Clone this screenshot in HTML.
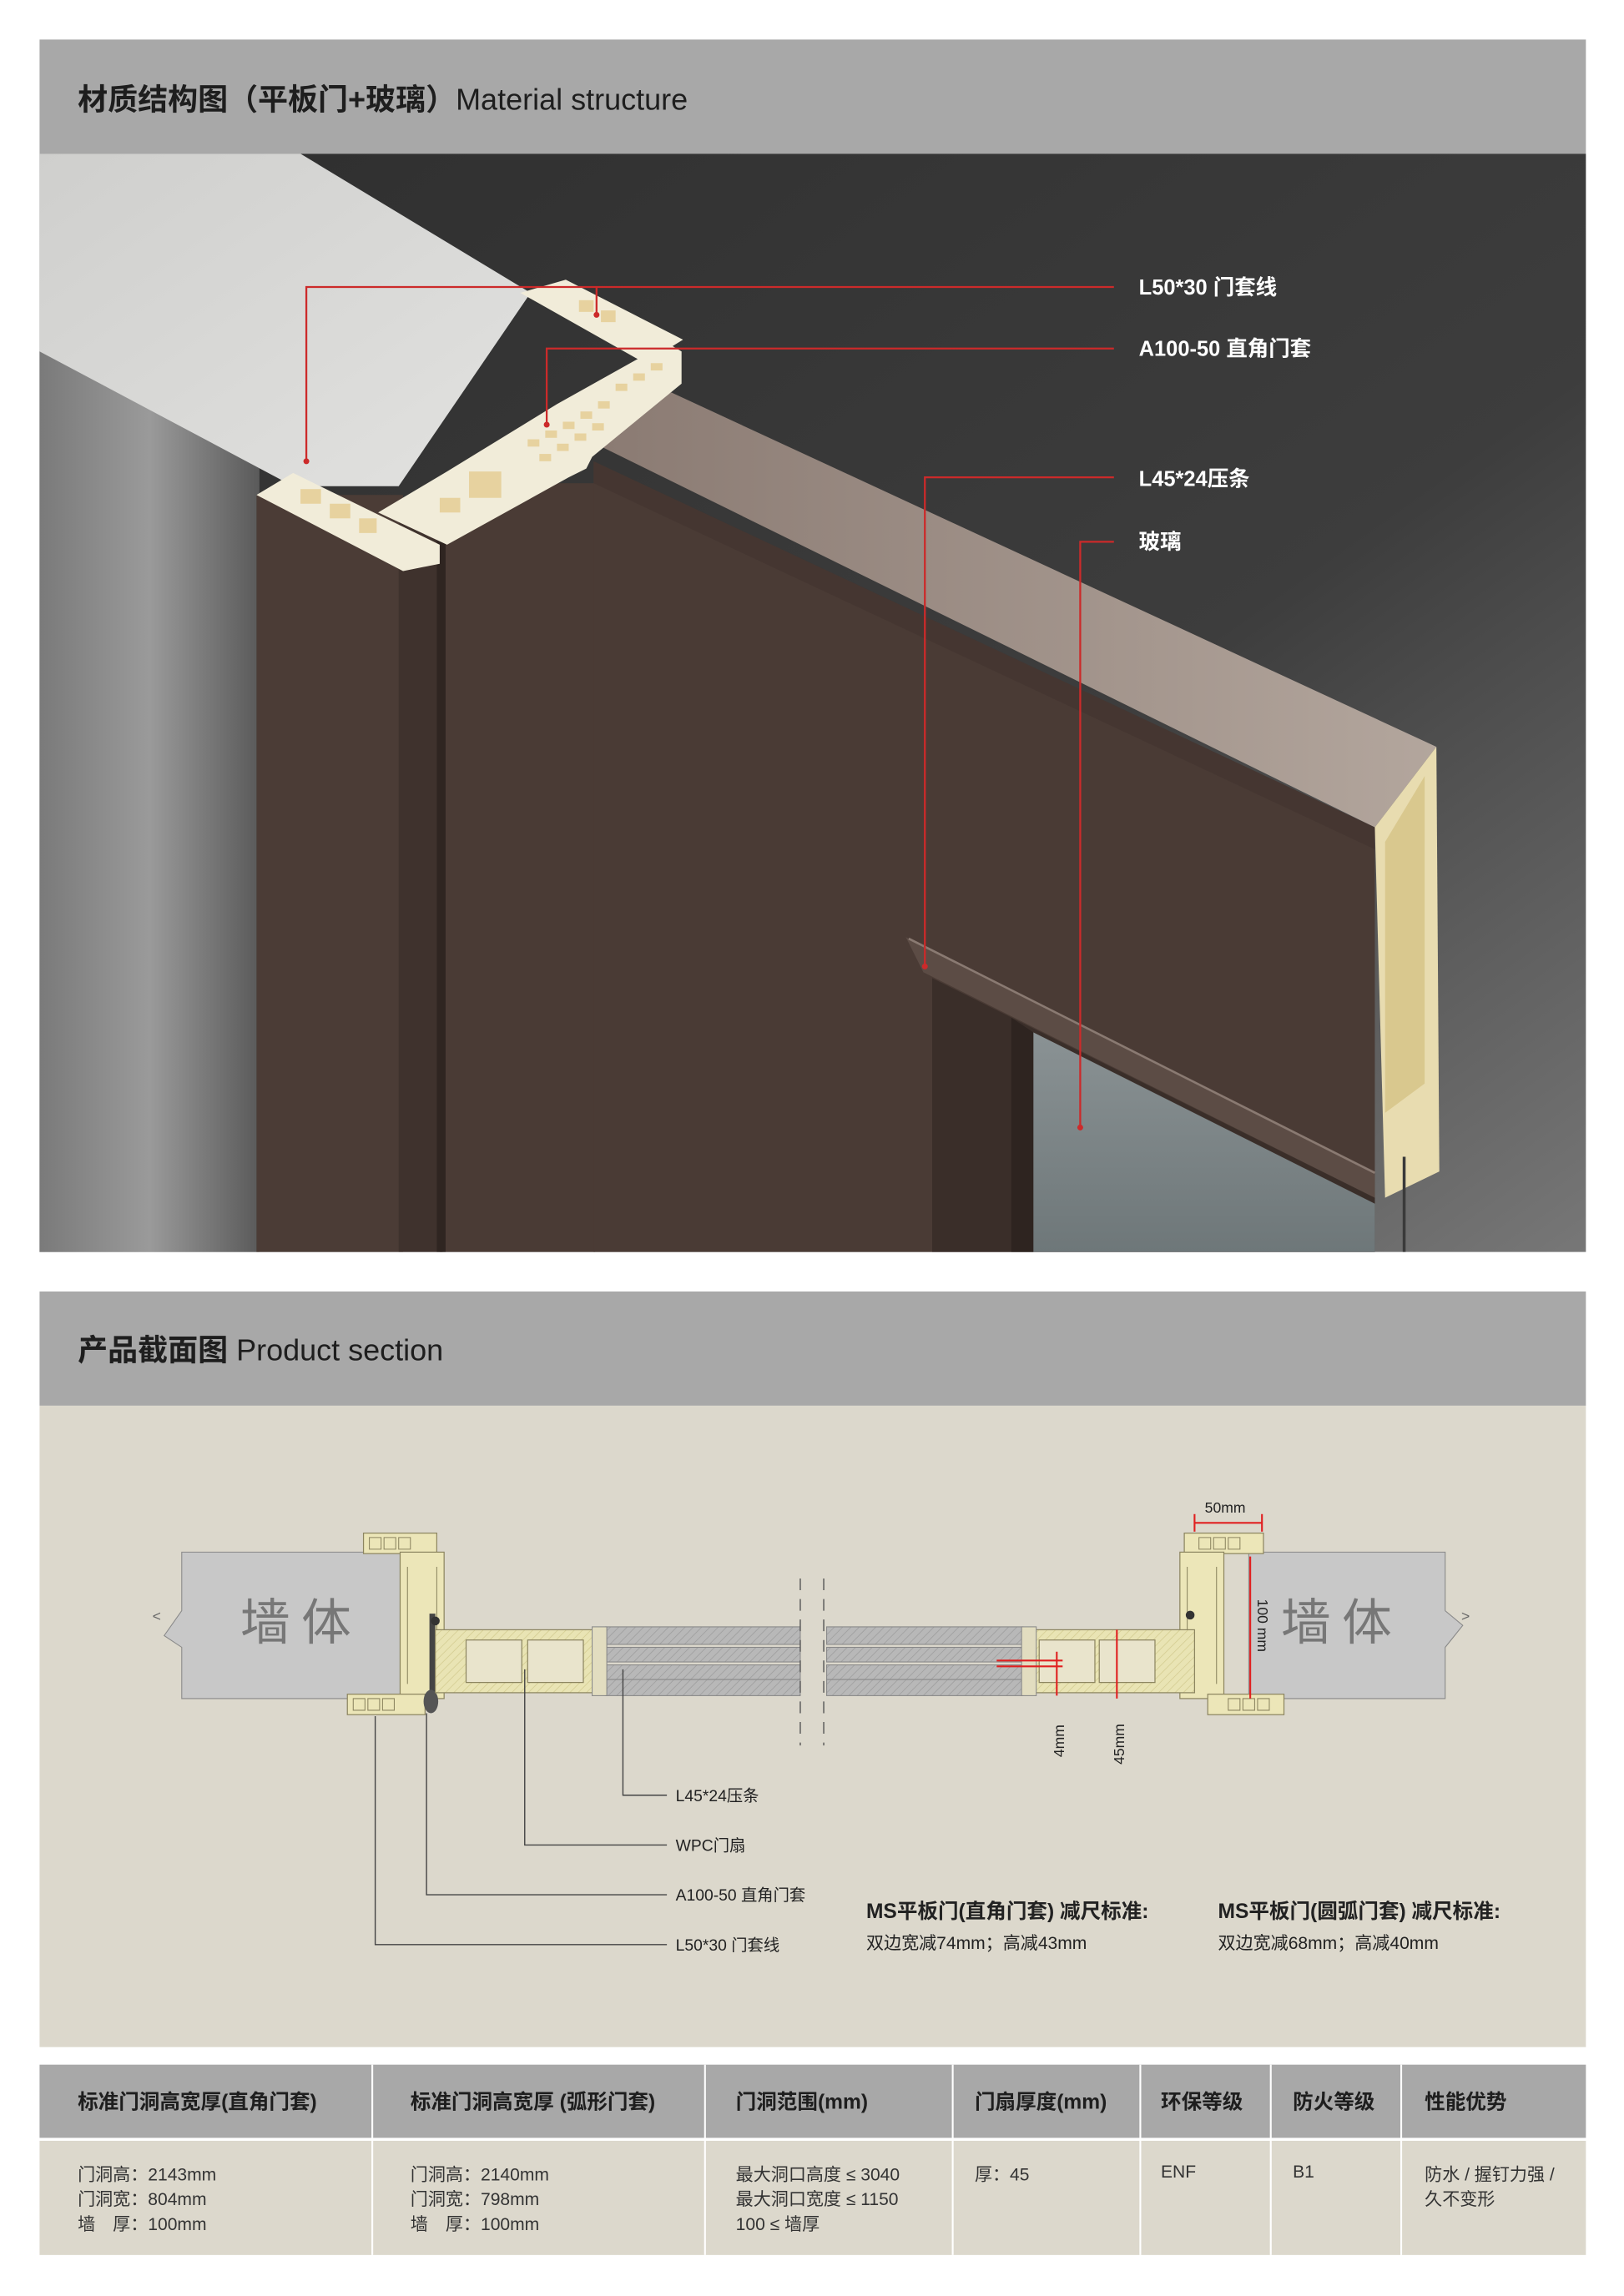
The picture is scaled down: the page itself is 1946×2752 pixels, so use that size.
<!DOCTYPE html>
<html><head><meta charset="utf-8"><style>html,body{margin:0;padding:0;background:#fff}svg{display:block}</style></head>
<body>
<svg width="1946" height="2752" viewBox="0 0 1108 1568" preserveAspectRatio="none" xmlns="http://www.w3.org/2000/svg" font-family="'Liberation Sans','Noto Sans CJK SC',sans-serif">
<defs>
<linearGradient id="bg" x1="0" y1="0" x2="1" y2="1"><stop offset="0" stop-color="#2e2e2e"/><stop offset="0.6" stop-color="#3d3d3d"/><stop offset="1" stop-color="#777"/></linearGradient>
<linearGradient id="wall" x1="0" y1="0" x2="1" y2="0"><stop offset="0" stop-color="#7a7a7a"/><stop offset="0.5" stop-color="#9a9a9a"/><stop offset="1" stop-color="#5a5a5a"/></linearGradient>
<linearGradient id="slab" x1="0" y1="0" x2="1" y2="1"><stop offset="0" stop-color="#cfcfcd"/><stop offset="1" stop-color="#e2e2e0"/></linearGradient>
<linearGradient id="doortop" x1="0" y1="0" x2="1" y2="0"><stop offset="0" stop-color="#8a7a72"/><stop offset="1" stop-color="#b3a69d"/></linearGradient>
<linearGradient id="glass" x1="0" y1="0" x2="0" y2="1"><stop offset="0" stop-color="#8a9294"/><stop offset="1" stop-color="#6e7779"/></linearGradient>
<pattern id="hatch" width="4" height="4" patternUnits="userSpaceOnUse" patternTransform="rotate(45)"><rect width="4" height="4" fill="#e9e4b4"/><line x1="0" y1="0" x2="0" y2="4" stroke="#d6cf95" stroke-width="1"/></pattern>
<pattern id="ghatch" width="4" height="4" patternUnits="userSpaceOnUse" patternTransform="rotate(45)"><rect width="4" height="4" fill="#b8b8b8"/><line x1="0" y1="0" x2="0" y2="4" stroke="#a0a0a0" stroke-width="1"/></pattern>
</defs>

<rect x="27" y="27" width="1055" height="78" fill="#a8a8a8"/>
<text x="53" y="75" font-size="20.5" fill="#1e1e1e"><tspan font-weight="bold">材质结构图（平板门+玻璃）</tspan><tspan>Material structure</tspan></text>

<rect x="27" y="105" width="1055" height="750" fill="url(#bg)"/>
<rect x="27" y="240" width="150" height="615" fill="url(#wall)"/>
<polygon points="27,105 205,105 362,200 272,332 200,332 27,240" fill="url(#slab)"/>
<rect x="175" y="338" width="100" height="517" fill="#4b3c36"/>
<rect x="272" y="345" width="30" height="510" fill="#3f322d"/>
<rect x="300" y="330" width="106" height="525" fill="#4a3b35"/>
<rect x="298" y="350" width="6" height="505" fill="#2f2521"/>
<polygon points="400,300 458,268 980,510 938,565" fill="url(#doortop)"/>
<polygon points="405,315 938,565 938,855 405,855" fill="#4a3b35"/>
<polygon points="405,315 938,565 938,580 405,330" fill="#3f322d" opacity="0.5"/>
<polygon points="636,668 938,818 938,855 636,855" fill="#3a2e29"/>
<polygon points="705,705 938,822 938,855 705,855" fill="url(#glass)"/>
<polygon points="690,695 705,705 705,855 690,855" fill="#2e2420"/>
<polygon points="618,640 938,800 938,818 630,664" fill="#5c4c45"/>
<line x1="620" y1="641" x2="938" y2="801" stroke="#8a7a72" stroke-width="1.5"/>
<polygon points="938,565 980,510 982,800 945,818" fill="#e8dcb0"/>
<polygon points="945,575 972,530 972,740 945,760" fill="#d9c88e"/>
<line x1="958" y1="790" x2="958" y2="855" stroke="#3a3a3a" stroke-width="2"/>
<polygon points="355,200 386,191 466,232 440,248" fill="#f1ecd9"/>
<polygon points="258,350 305,322 380,276 455,234 465,240 465,262 404,312 400,320 388,326 305,372" fill="#f1ecd9"/>
<polygon points="175,338 200,323 300,372 300,385 275,390" fill="#f1ecd9"/>
<g fill="#e7d29f">
<rect x="205" y="334" width="14" height="10"/><rect x="225" y="344" width="14" height="10"/><rect x="245" y="354" width="12" height="10"/>
<rect x="395" y="205" width="10" height="8"/><rect x="410" y="212" width="10" height="8"/>
<rect x="320" y="322" width="22" height="18"/><rect x="300" y="340" width="14" height="10"/>
<rect x="360" y="300" width="8" height="5"/><rect x="372" y="294" width="8" height="5"/><rect x="384" y="288" width="8" height="5"/><rect x="396" y="281" width="8" height="5"/><rect x="408" y="274" width="8" height="5"/>
<rect x="368" y="310" width="8" height="5"/><rect x="380" y="303" width="8" height="5"/><rect x="392" y="296" width="8" height="5"/><rect x="404" y="289" width="8" height="5"/>
<rect x="420" y="262" width="8" height="5"/><rect x="432" y="255" width="8" height="5"/><rect x="444" y="248" width="8" height="5"/>
</g>
<g stroke="#cc2a2a" stroke-width="1.3" fill="none">
<polyline points="209,315 209,196 760,196"/><line x1="407" y1="196" x2="407" y2="215"/>
<polyline points="373,290 373,238 760,238"/>
<polyline points="631,660 631,326 760,326"/>
<polyline points="737,770 737,370 760,370"/>
</g>
<g fill="#cc2a2a"><circle cx="209" cy="315" r="2"/><circle cx="407" cy="215" r="2"/><circle cx="373" cy="290" r="2"/><circle cx="631" cy="660" r="2"/><circle cx="737" cy="770" r="2"/></g>
<g fill="#fff" font-size="14.5" font-weight="bold">
<text x="777" y="201">L50*30 门套线</text>
<text x="777" y="243">A100-50 直角门套</text>
<text x="777" y="332">L45*24压条</text>
<text x="777" y="375">玻璃</text>
</g>

<rect x="27" y="882" width="1055" height="78" fill="#a8a8a8"/>
<text x="53" y="929" font-size="20.5" fill="#1e1e1e"><tspan font-weight="bold">产品截面图 </tspan><tspan>Product section</tspan></text>
<rect x="27" y="960" width="1055" height="438" fill="#dcd8cc"/>

<polygon points="124,1060 273,1060 273,1160 124,1160 124,1125 112,1117 124,1100" fill="#c8c8c8" stroke="#888" stroke-width="0.6"/>
<polygon points="852,1060 986,1060 986,1100 998,1110 986,1125 986,1160 852,1160" fill="#c8c8c8" stroke="#888" stroke-width="0.6"/>
<text x="104" y="1107" font-size="10" fill="#666">&lt;</text><text x="997" y="1107" font-size="10" fill="#666">&gt;</text>
<text x="164" y="1120" font-size="34" fill="#777" font-family="'Noto Sans CJK SC',sans-serif">墙 体</text>
<text x="874" y="1120" font-size="34" fill="#777" font-family="'Noto Sans CJK SC',sans-serif">墙 体</text>

<g fill="#ece6b8" stroke="#8c8560" stroke-width="0.7">
<rect x="248" y="1047" width="50" height="14"/>
<rect x="273" y="1060" width="30" height="100"/>
<rect x="237" y="1157" width="53" height="14"/>
<rect x="808" y="1047" width="54" height="14"/>
<rect x="805" y="1060" width="30" height="100"/>
<rect x="824" y="1157" width="52" height="14"/>
</g>
<g fill="none" stroke="#8c8560" stroke-width="0.6">
<path d="M252,1050h8v8h-8zM262,1050h8v8h-8zM272,1050h8v8h-8zM241,1160h8v8h-8zM251,1160h8v8h-8zM261,1160h8v8h-8z"/>
<path d="M818,1050h8v8h-8zM828,1050h8v8h-8zM838,1050h8v8h-8zM838,1160h8v8h-8zM848,1160h8v8h-8zM858,1160h8v8h-8z"/>
<path d="M278,1070v80M298,1070v80M810,1070v80M830,1070v80"/>
</g>
<rect x="293" y="1102" width="4" height="56" fill="#444"/>
<ellipse cx="294" cy="1162" rx="5" ry="8" fill="#555"/>
<circle cx="297" cy="1107" r="3" fill="#333"/>
<circle cx="812" cy="1103" r="3" fill="#333"/>
<rect x="297" y="1113" width="113" height="43" fill="url(#hatch)" stroke="#8c8560" stroke-width="0.7"/>
<rect x="318" y="1120" width="38" height="29" fill="#e9e4cc" stroke="#8c8560" stroke-width="0.7"/>
<rect x="360" y="1120" width="38" height="29" fill="#e9e4cc" stroke="#8c8560" stroke-width="0.7"/>
<rect x="700" y="1113" width="115" height="43" fill="url(#hatch)" stroke="#8c8560" stroke-width="0.7"/>
<rect x="709" y="1120" width="38" height="29" fill="#e9e4cc" stroke="#8c8560" stroke-width="0.7"/>
<rect x="750" y="1120" width="38" height="29" fill="#e9e4cc" stroke="#8c8560" stroke-width="0.7"/>
<g fill="url(#ghatch)" stroke="#888" stroke-width="0.6">
<rect x="413" y="1111" width="133" height="12"/><rect x="413" y="1125" width="133" height="10"/><rect x="413" y="1137" width="133" height="10"/><rect x="413" y="1147" width="133" height="11"/>
<rect x="564" y="1111" width="134" height="12"/><rect x="564" y="1125" width="134" height="10"/><rect x="564" y="1137" width="134" height="10"/><rect x="564" y="1147" width="134" height="11"/>
</g>
<rect x="404" y="1111" width="10" height="47" fill="#e2ddc0" stroke="#888" stroke-width="0.6"/>
<rect x="697" y="1111" width="10" height="47" fill="#e2ddc0" stroke="#888" stroke-width="0.6"/>
<line x1="546" y1="1078" x2="546" y2="1192" stroke="#555" stroke-width="0.8" stroke-dasharray="8,6"/>
<line x1="562" y1="1078" x2="562" y2="1192" stroke="#555" stroke-width="0.8" stroke-dasharray="8,6"/>
<g stroke="#e02020" stroke-width="1.2">
<line x1="815" y1="1040" x2="861" y2="1040"/><line x1="815" y1="1034" x2="815" y2="1046"/><line x1="861" y1="1034" x2="861" y2="1046"/>
<line x1="853" y1="1063" x2="853" y2="1160"/>
<line x1="721" y1="1128" x2="721" y2="1158"/><line x1="680" y1="1134" x2="725" y2="1134"/><line x1="680" y1="1138" x2="725" y2="1138"/>
<line x1="762" y1="1113" x2="762" y2="1160"/>
</g>
<g fill="#222" font-size="10">
<text x="822" y="1033">50mm</text>
<text transform="translate(858,1092) rotate(90)" font-size="10">100 mm</text>
<text transform="translate(726,1200) rotate(-90)">4mm</text>
<text transform="translate(767,1205) rotate(-90)">45mm</text>
</g>
<g stroke="#444" stroke-width="0.8" fill="none">
<polyline points="425,1140 425,1226 455,1226"/>
<polyline points="358,1140 358,1260 455,1260"/>
<polyline points="291,1170 291,1294 455,1294"/>
<polyline points="256,1172 256,1328 455,1328"/>
</g>
<g fill="#222" font-size="11">
<text x="461" y="1230">L45*24压条</text>
<text x="461" y="1264">WPC门扇</text>
<text x="461" y="1298">A100-50 直角门套</text>
<text x="461" y="1332">L50*30 门套线</text>
</g>
<g fill="#222">
<text x="591" y="1310" font-size="14" font-weight="bold">MS平板门(直角门套) 减尺标准:</text>
<text x="591" y="1331" font-size="12">双边宽减74mm；高减43mm</text>
<text x="831" y="1310" font-size="14" font-weight="bold">MS平板门(圆弧门套) 减尺标准:</text>
<text x="831" y="1331" font-size="12">双边宽减68mm；高减40mm</text>
</g>

<rect x="27" y="1410" width="1055" height="50" fill="#a8a8a8"/>
<rect x="27" y="1462" width="1055" height="78" fill="#dcd8cc"/>
<g stroke="#fff" stroke-width="1.2">
<line x1="254" y1="1410" x2="254" y2="1540"/><line x1="481" y1="1410" x2="481" y2="1540"/><line x1="650" y1="1410" x2="650" y2="1540"/><line x1="778" y1="1410" x2="778" y2="1540"/><line x1="867" y1="1410" x2="867" y2="1540"/><line x1="956" y1="1410" x2="956" y2="1540"/>
</g>
<g fill="#1e1e1e" font-size="14" font-weight="bold">
<text x="53" y="1440">标准门洞高宽厚(直角门套)</text>
<text x="280" y="1440">标准门洞高宽厚 (弧形门套)</text>
<text x="502" y="1440">门洞范围(mm)</text>
<text x="665" y="1440">门扇厚度(mm)</text>
<text x="792" y="1440">环保等级</text>
<text x="882" y="1440">防火等级</text>
<text x="972" y="1440">性能优势</text>
</g>
<g fill="#333" font-size="12">
<text x="53" y="1489">门洞高：2143mm</text><text x="53" y="1506">门洞宽：804mm</text><text x="53" y="1523">墙　厚：100mm</text>
<text x="280" y="1489">门洞高：2140mm</text><text x="280" y="1506">门洞宽：798mm</text><text x="280" y="1523">墙　厚：100mm</text>
<text x="502" y="1489">最大洞口高度 ≤ 3040</text><text x="502" y="1506">最大洞口宽度 ≤ 1150</text><text x="502" y="1523">100 ≤ 墙厚</text>
<text x="665" y="1489">厚：45</text>
<text x="792" y="1487">ENF</text>
<text x="882" y="1487">B1</text>
<text x="972" y="1489">防水 / 握钉力强 /</text><text x="972" y="1506">久不变形</text>
</g>
</svg>
</body></html>
